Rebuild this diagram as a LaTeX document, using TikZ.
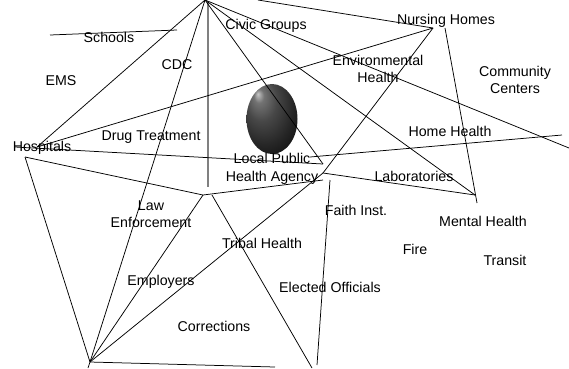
\documentclass[tikz,border=0pt]{standalone}
\usepackage{fontspec}
\setmainfont{Liberation Sans}
\usetikzlibrary{shapes.geometric}
\pgfdeclareradialshading{darkball}{\pgfpoint{-14bp}{18bp}}{%
  color(0bp)=(gray!45);
  color(5bp)=(black!55);
  color(15bp)=(black!72);
  color(28bp)=(black!85);
  color(40bp)=(black!95);
  color(60bp)=(black)}
\begin{document}
\begin{tikzpicture}[x=1pt,y=-1pt,
  lbl/.style={inner sep=0pt,align=center,font=\fontsize{14.2}{17.5}\selectfont},
  conn/.style={line width=0.75pt,black},
  axis/.style={line width=1.6pt,gray}]
\useasboundingbox (0,0) rectangle (569,368);
% ball
\node[ellipse,minimum width=51pt,minimum height=70pt,inner sep=0pt,shading=darkball] (ball) at (272,119) {};
% labels
\node[lbl] (schools) at (109,37) {Schools};
\node[lbl] (cdc) at (177,65) {CDC};
\node[lbl] (ems) at (61,81) {EMS};
\node[lbl] (hosp) at (42,148) {Hospitals};
\node[lbl] (drug) at (151,137) {Drug Treatment};
\node[lbl] (civic) at (266,26) {Civic Groups};
\node[lbl] (nursing) at (446,21) {Nursing Homes};
\node[lbl] (env) at (378,69) {Environmental\\Health};
\node[lbl] (comm) at (515,80) {Community\\Centers};
\node[lbl] (home) at (450,131) {Home Health};
\node[lbl] (lpha) at (272,169) {Local Public\\Health Agency};
\node[lbl] (labs) at (414,176) {Laboratories};
\node[lbl] (faith) at (356,210) {Faith Inst.};
\node[lbl] (mental) at (483,221) {Mental Health};
\node[lbl] (fire) at (415,249) {Fire};
\node[lbl] (transit) at (505,260) {Transit};
\node[lbl] (elected) at (330,287) {Elected Officials};
\node[lbl] (law) at (151,214) {Law\\Enforcement};
\node[lbl] (tribal) at (262,243) {Tribal Health};
\node[lbl] (employers) at (161,282) {Employers};
\node[lbl] (corrections) at (214,326) {Corrections};
% junction points
\coordinate (T) at (205,0);
\coordinate (Tb) at (258,0);
\coordinate (H) at (37,147);
\coordinate (H2) at (25,157);
\coordinate (Hs) at (15,147);
\coordinate (B) at (90,362);
\coordinate (Bt) at (88,368);
\coordinate (Bb) at (275,367);
\coordinate (P) at (203,195);
\coordinate (P2) at (212,195);
\coordinate (Pe) at (312,368);
\coordinate (A1) at (323,164);
\coordinate (A2) at (323,173);
\coordinate (A3) at (323,180);
\coordinate (A4) at (310,157);
\coordinate (A5) at (330,180);
\coordinate (Ae) at (317,365);
\coordinate (N) at (433,28);
\coordinate (N2) at (445,28);
\coordinate (M) at (475,195);
\coordinate (M2) at (477,203);
\coordinate (Re) at (569,148);
\coordinate (HHe) at (562,135);
\coordinate (S1) at (50,35);
\coordinate (S2) at (177,30);
\coordinate (G1) at (208,2);
\coordinate (G2) at (208,187);
% gray axis
\draw[axis] (G1) -- (G2);
% connectors
\draw[conn] (S1) -- (S2);
\draw[conn] (T) -- (H);
\draw[conn] (T) -- (B);
\draw[conn] (H) -- (N);
\draw[conn] (Hs) -- (A1);
\draw[conn] (H2) -- (P);
\draw[conn] (H2) -- (B);
\draw[conn] (T) -- (A1);
\draw[conn] (T) -- (Re);
\draw[conn] (T) -- (M);
\draw[conn] (Tb) -- (N);
\draw[conn] (N) -- (A2);
\draw[conn] (N2) -- (M2);
\draw[conn] (A2) -- (M);
\draw[conn] (A4) -- (HHe);
\draw[conn] (P) -- (A3);
\draw[conn] (P) -- (B);
\draw[conn] (A2) -- (B);
\draw[conn] (P2) -- (Pe);
\draw[conn] (A5) -- (Ae);
\draw[conn] (B) -- (Bb);
\draw[conn] (B) -- (Bt);
\end{tikzpicture}
\end{document}
